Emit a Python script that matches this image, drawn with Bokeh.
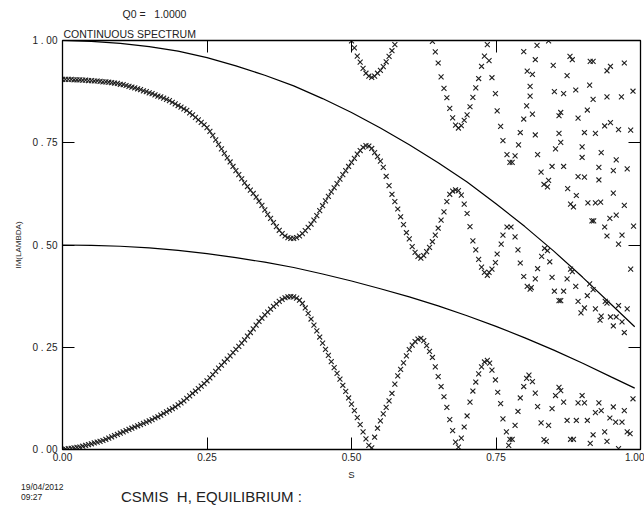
from bokeh.plotting import figure
from bokeh.models import Range1d, LinearAxis, FixedTicker, CustomJSTickFormatter, Title, Div
from bokeh.layouts import column
from bokeh.embed import file_html
from bokeh.resources import INLINE

# ---- continuous spectrum boundaries ----
CONT_S = [0.00, 0.05, 0.10, 0.15, 0.20, 0.25, 0.30, 0.35, 0.40, 0.45, 0.50,
          0.55, 0.60, 0.65, 0.70, 0.75, 0.80, 0.85, 0.90, 0.95, 0.99]
CONT_UPPER = [1.000, 0.998, 0.993, 0.985, 0.974, 0.958, 0.938, 0.915, 0.889, 0.858, 0.824,
              0.786, 0.745, 0.701, 0.654, 0.601, 0.545, 0.485, 0.421, 0.354, 0.300]
CONT_LOWER = [0.500, 0.499, 0.497, 0.493, 0.487, 0.479, 0.469, 0.458, 0.445, 0.429, 0.412,
              0.393, 0.373, 0.351, 0.327, 0.301, 0.273, 0.243, 0.211, 0.177, 0.150]

# ---- discrete eigenvalues, two main branches on the s mesh ----
S_MESH = [
    0.000, 0.005, 0.010, 0.015, 0.020, 0.025, 0.030, 0.035, 0.040, 0.045,
    0.050, 0.055, 0.060, 0.065, 0.070, 0.075, 0.080, 0.085, 0.090, 0.095,
    0.100, 0.105, 0.110, 0.115, 0.120, 0.125, 0.130, 0.135, 0.140, 0.145,
    0.150, 0.155, 0.160, 0.165, 0.170, 0.175, 0.180, 0.185, 0.190, 0.195,
    0.200, 0.205, 0.210, 0.215, 0.220, 0.225, 0.230, 0.235, 0.240, 0.245,
    0.250, 0.255, 0.260, 0.265, 0.270, 0.275, 0.280, 0.285, 0.290, 0.295,
    0.300, 0.305, 0.310, 0.315, 0.320, 0.325, 0.330, 0.335, 0.340, 0.345,
    0.350, 0.355, 0.360, 0.365, 0.370, 0.375, 0.380, 0.385, 0.390, 0.395,
    0.400, 0.405, 0.410, 0.415, 0.420, 0.425, 0.430, 0.435, 0.440, 0.445,
    0.450, 0.455, 0.460, 0.465, 0.470, 0.475, 0.480, 0.485, 0.490, 0.495,
    0.500, 0.505, 0.510, 0.515, 0.520, 0.525, 0.530, 0.535, 0.540, 0.545,
    0.550, 0.555, 0.560, 0.565, 0.570, 0.575, 0.580, 0.585, 0.590, 0.595,
    0.600, 0.605, 0.610, 0.615, 0.620, 0.625, 0.630, 0.635, 0.640, 0.645,
    0.650, 0.655, 0.660, 0.665, 0.670, 0.675, 0.680, 0.685, 0.690, 0.695,
    0.700, 0.705, 0.710, 0.715, 0.720, 0.725, 0.730, 0.735,
]
IM_LOW_BRANCH = [
    0.000, 0.001, 0.002, 0.003, 0.004, 0.005, 0.006, 0.008, 0.010, 0.012,
    0.014, 0.016, 0.018, 0.020, 0.022, 0.025, 0.028, 0.031, 0.034, 0.037,
    0.040, 0.043, 0.046, 0.049, 0.052, 0.055, 0.058, 0.061, 0.064, 0.067,
    0.070, 0.073, 0.077, 0.080, 0.084, 0.088, 0.092, 0.096, 0.100, 0.104,
    0.109, 0.114, 0.119, 0.125, 0.131, 0.137, 0.143, 0.149, 0.155, 0.161,
    0.168, 0.175, 0.183, 0.191, 0.199, 0.206, 0.214, 0.221, 0.229, 0.237,
    0.245, 0.252, 0.260, 0.268, 0.277, 0.286, 0.295, 0.304, 0.313, 0.321,
    0.329, 0.336, 0.343, 0.350, 0.356, 0.362, 0.367, 0.371, 0.373, 0.374,
    0.373, 0.370, 0.365, 0.357, 0.346, 0.333, 0.319, 0.304, 0.290, 0.275,
    0.260, 0.245, 0.230, 0.215, 0.200, 0.186, 0.172, 0.157, 0.142, 0.126,
    0.111, 0.095, 0.078, 0.061, 0.043, 0.026, 0.010, 0.004, 0.030, 0.052,
    0.070, 0.087, 0.103, 0.119, 0.137, 0.160, 0.180, 0.196, 0.212, 0.229,
    0.244, 0.255, 0.264, 0.270, 0.272, 0.266, 0.254, 0.240, 0.225, 0.202,
    0.178, 0.154, 0.129, 0.103, 0.073, 0.046, 0.018, 0.006, 0.028, 0.055,
    0.082, 0.116, 0.143, 0.165, 0.185, 0.202, 0.214, 0.218,
]
IM_HIGH_BRANCH = [
    0.905, 0.905, 0.905, 0.905, 0.904, 0.904, 0.904, 0.903, 0.903, 0.902,
    0.902, 0.901, 0.901, 0.900, 0.899, 0.899, 0.898, 0.897, 0.896, 0.895,
    0.893, 0.892, 0.890, 0.888, 0.886, 0.884, 0.882, 0.880, 0.877, 0.875,
    0.872, 0.870, 0.867, 0.864, 0.862, 0.859, 0.856, 0.853, 0.849, 0.845,
    0.841, 0.837, 0.833, 0.829, 0.823, 0.818, 0.812, 0.806, 0.800, 0.794,
    0.787, 0.778, 0.768, 0.757, 0.746, 0.735, 0.724, 0.713, 0.703, 0.692,
    0.682, 0.672, 0.662, 0.652, 0.643, 0.634, 0.626, 0.617, 0.607, 0.597,
    0.586, 0.575, 0.565, 0.555, 0.545, 0.536, 0.528, 0.522, 0.518, 0.516,
    0.516, 0.518, 0.522, 0.528, 0.535, 0.543, 0.551, 0.561, 0.572, 0.584,
    0.596, 0.608, 0.619, 0.630, 0.640, 0.650, 0.661, 0.672, 0.682, 0.692,
    0.702, 0.712, 0.722, 0.731, 0.739, 0.743, 0.742, 0.736, 0.726, 0.716,
    0.705, 0.690, 0.668, 0.645, 0.624, 0.606, 0.588, 0.569, 0.550, 0.530,
    0.515, 0.496, 0.482, 0.472, 0.468, 0.474, 0.484, 0.494, 0.508, 0.524,
    0.541, 0.561, 0.581, 0.606, 0.624, 0.632, 0.635, 0.633, 0.622, 0.600,
    0.577, 0.545, 0.510, 0.488, 0.465, 0.446, 0.433, 0.426,
]

# ---- branches dipping down from IM = 1 ----
DIP1_S = [0.500, 0.505, 0.510, 0.515, 0.520, 0.525, 0.530, 0.535,
          0.540, 0.545, 0.550, 0.555, 0.560, 0.565, 0.570, 0.575]
DIP1_IM = [0.999, 0.982, 0.962, 0.947, 0.932, 0.920, 0.913, 0.910,
           0.913, 0.920, 0.927, 0.936, 0.948, 0.961, 0.975, 0.990]
DIP2_S = [0.640, 0.645, 0.650, 0.655, 0.660, 0.665, 0.670, 0.675, 0.680, 0.685,
          0.690, 0.695, 0.700, 0.705, 0.710, 0.715, 0.720, 0.725, 0.730, 0.735]
DIP2_IM = [0.998, 0.972, 0.945, 0.911, 0.883, 0.860, 0.834, 0.811, 0.793, 0.786,
           0.792, 0.805, 0.818, 0.838, 0.861, 0.884, 0.907, 0.937, 0.962, 0.990]

# ---- eigenvalues near the edge (s > 0.735) ----
EDGE_S = [
    0.841, 0.821, 0.798, 0.738, 0.818, 0.878, 0.882, 0.913, 0.918, 0.948,
    0.942, 0.972, 0.849, 0.804, 0.813, 0.873, 0.743, 0.809, 0.809, 0.851,
    0.867, 0.888, 0.912, 0.918, 0.942, 0.967, 0.987, 0.749, 0.803, 0.813,
    0.798, 0.859, 0.862, 0.892, 0.908, 0.752, 0.758, 0.792, 0.818, 0.859,
    0.903, 0.922, 0.938, 0.948, 0.962, 0.983, 0.762, 0.789, 0.853, 0.862,
    0.899, 0.769, 0.783, 0.822, 0.899, 0.932, 0.774, 0.778, 0.847, 0.867,
    0.928, 0.958, 0.953, 0.977, 0.828, 0.841, 0.833, 0.839, 0.892, 0.903,
    0.928, 0.874, 0.889, 0.953, 0.879, 0.884, 0.909, 0.922, 0.931, 0.972,
    0.916, 0.919, 0.947, 0.958, 0.938, 0.988, 0.769, 0.776,
    0.942, 0.968, 0.962, 0.762, 0.783, 0.759, 0.788, 0.752, 0.749, 0.792,
    0.743, 0.738, 0.834, 0.839, 0.829, 0.843, 0.822, 0.879, 0.882, 0.983,
    0.798, 0.818, 0.847, 0.873, 0.804, 0.809, 0.811, 0.888, 0.912, 0.918,
    0.908, 0.851, 0.867, 0.859, 0.862, 0.892, 0.903, 0.897, 0.922, 0.939,
    0.942, 0.962, 0.977, 0.932, 0.930, 0.948, 0.958, 0.968, 0.953, 0.972,
    0.739, 0.743, 0.749, 0.753, 0.758, 0.762, 0.768, 0.774, 0.772, 0.807,
    0.803, 0.813, 0.798, 0.792, 0.818, 0.788, 0.822, 0.783, 0.828, 0.778,
    0.833, 0.837, 0.859, 0.862, 0.853, 0.867, 0.847, 0.873, 0.841, 0.879,
    0.884, 0.899, 0.892, 0.903, 0.928, 0.922, 0.932, 0.953, 0.972, 0.987,
    0.889, 0.908, 0.947, 0.957, 0.968, 0.918, 0.938, 0.913, 0.942, 0.977,
    0.982, 0.962,
]
EDGE_IM = [
    0.999, 0.988, 0.973, 0.951, 0.953, 0.961, 0.953, 0.949, 0.949, 0.937,
    0.926, 0.945, 0.939, 0.925, 0.917, 0.914, 0.909, 0.888, 0.864, 0.875,
    0.870, 0.879, 0.891, 0.856, 0.862, 0.862, 0.876, 0.870, 0.840, 0.820,
    0.808, 0.816, 0.824, 0.810, 0.830, 0.828, 0.790, 0.775, 0.769, 0.773,
    0.775, 0.773, 0.791, 0.799, 0.782, 0.781, 0.755, 0.745, 0.735, 0.751,
    0.740, 0.721, 0.718, 0.721, 0.714, 0.726, 0.702, 0.702, 0.692, 0.692,
    0.690, 0.708, 0.682, 0.686, 0.678, 0.658, 0.648, 0.642, 0.667, 0.666,
    0.659, 0.638, 0.621, 0.627, 0.600, 0.593, 0.603, 0.603, 0.605, 0.597,
    0.559, 0.559, 0.565, 0.573, 0.544, 0.546, 0.544, 0.544,
    0.522, 0.524, 0.502, 0.524, 0.520, 0.502, 0.488, 0.478, 0.457, 0.456,
    0.441, 0.433, 0.492, 0.486, 0.472, 0.459, 0.442, 0.441, 0.435, 0.441,
    0.423, 0.417, 0.421, 0.417, 0.399, 0.392, 0.396, 0.399, 0.405, 0.391,
    0.376, 0.387, 0.387, 0.364, 0.364, 0.362, 0.346, 0.334, 0.344, 0.362,
    0.358, 0.352, 0.344, 0.326, 0.316, 0.324, 0.324, 0.312, 0.302, 0.286,
    0.211, 0.194, 0.170, 0.140, 0.112, 0.075, 0.043, 0.025, 0.010, 0.182,
    0.174, 0.166, 0.154, 0.126, 0.138, 0.093, 0.105, 0.059, 0.065, 0.025,
    0.024, 0.020, 0.152, 0.144, 0.132, 0.116, 0.100, 0.071, 0.059, 0.025,
    0.025, 0.132, 0.114, 0.114, 0.114, 0.090, 0.095, 0.104, 0.095, 0.124,
    0.071, 0.071, 0.077, 0.067, 0.067, 0.036, 0.043, 0.015, 0.020, 0.043,
    0.039, 0.002,
]

TICKS = [0.0, 0.25, 0.5, 0.75, 1.0]

FONT = "Liberation Sans"
INK = "#222222"

p = figure(width=644, height=482, output_backend="svg", toolbar_location=None,
           x_range=Range1d(0, 1), y_range=Range1d(0, 1),
           min_border_left=62, min_border_right=4, min_border_top=39,
           min_border_bottom=31)
p.grid.visible = False
p.background_fill_color = "white"
p.border_fill_color = "white"
p.outline_line_color = "black"
p.outline_line_width = 1.3

for ax in (p.xaxis[0], p.yaxis[0]):
    ax.ticker = FixedTicker(ticks=TICKS)
    ax.major_tick_in = 12
    ax.major_tick_out = 0
    ax.minor_tick_line_color = None
    ax.axis_line_color = "black"
    ax.major_tick_line_color = "black"
    ax.major_label_text_font = FONT
    ax.major_label_text_font_size = "10px"
    ax.major_label_text_color = INK
    ax.axis_label_text_font = FONT
    ax.axis_label_text_font_style = "normal"
    ax.axis_label_text_color = INK

p.xaxis[0].formatter = CustomJSTickFormatter(code="return tick.toFixed(2)")
p.yaxis[0].formatter = CustomJSTickFormatter(code="return tick.toFixed(2).replace('.', ' . ')")
p.xaxis[0].major_label_standoff = 3
p.yaxis[0].major_label_standoff = 5
p.xaxis[0].axis_label = "S"
p.xaxis[0].axis_label_text_font_size = "9.5px"
p.xaxis[0].axis_label_standoff = 5
p.yaxis[0].axis_label = "IM(LAMBDA)"
p.yaxis[0].axis_label_text_font_size = "8px"
p.yaxis[0].axis_label_standoff = 6

# inward ticks along the top and right edges of the frame
for side in ("above", "right"):
    edge_ax = LinearAxis(ticker=FixedTicker(ticks=TICKS),
                         formatter=CustomJSTickFormatter(code="return ''"),
                         major_label_text_font_size="0px",
                         major_tick_in=12, major_tick_out=0, major_label_standoff=0,
                         axis_label_standoff=0,
                         minor_tick_line_color=None, axis_line_color=None,
                         major_tick_line_color="black")
    p.add_layout(edge_ax, side)

# header lines above the frame
p.add_layout(Title(text="CONTINUOUS SPECTRUM", align="left", offset=1, standoff=2,
                   text_font=FONT, text_font_size="10.5px", text_font_style="normal",
                   text_color=INK), "above")
p.add_layout(Title(text="Q0 =\u00a0\u00a0 1.0000", align="left", offset=60, standoff=10,
                   text_font=FONT, text_font_size="10.5px", text_font_style="normal",
                   text_color=INK), "above")

# continuous spectrum
p.line(CONT_S, CONT_UPPER, line_color="black", line_width=1.2)
p.line(CONT_S, CONT_LOWER, line_color="black", line_width=1.2)

# discrete eigenvalues
mk = dict(marker="x", size=7, line_color="#1f1f1f", line_width=1.1)
p.scatter(S_MESH, IM_LOW_BRANCH, **mk)
p.scatter(S_MESH, IM_HIGH_BRANCH, **mk)
p.scatter(DIP1_S, DIP1_IM, **mk)
p.scatter(DIP2_S, DIP2_IM, **mk)
p.scatter(EDGE_S, EDGE_IM, **mk)

# footer: run stamp and case name
footer_html = (
    '<div style="position:relative;width:644px;height:26px;'
    'font-family:\'Liberation Sans\',Arial,sans-serif;color:#222222;">'
    '<div style="position:absolute;left:21px;top:0px;font-size:8.5px;line-height:10px;'
    'white-space:nowrap;">19/04/2012<br>09:27</div>'
    '<div style="position:absolute;left:121px;top:7px;font-size:15px;line-height:15px;'
    'white-space:pre;">CSMIS  H, EQUILIBRIUM :</div>'
    '</div>'
)
footer = Div(text=footer_html, width=644, height=26, margin=(0, 0, 0, 0))

page = column(p, footer, spacing=0)

open("out.html", "w").write(file_html(page, INLINE))
